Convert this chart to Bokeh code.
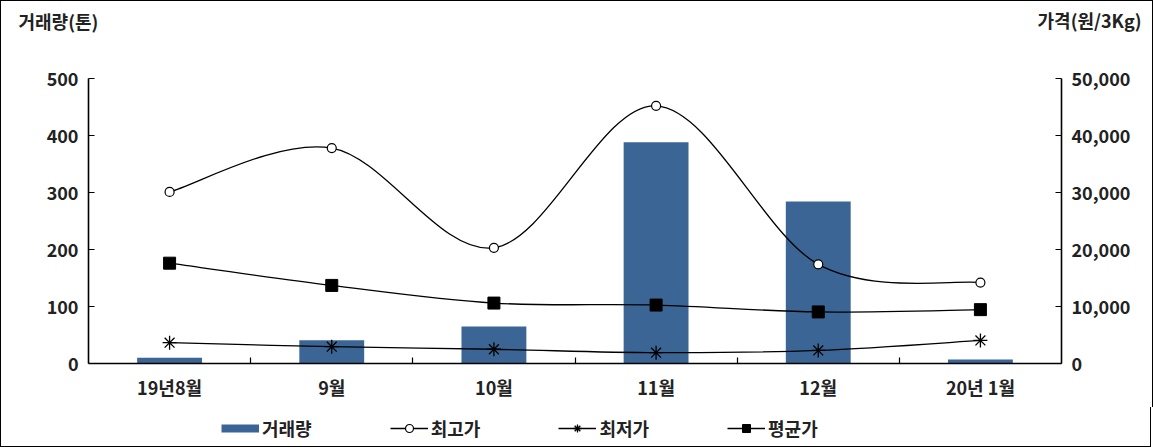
from bokeh.plotting import figure
from bokeh.layouts import column
from bokeh.models import (Range1d, LinearAxis, FixedTicker, NumeralTickFormatter,
                          Legend, LegendItem, Label)
from bokeh.embed import file_html
from bokeh.resources import INLINE

# ---- data ----
months = ["19년8월", "9월", "10월", "11월", "12월", "20년 1월"]
volume = [10, 41, 65, 388, 284, 7]                         # 거래량 (톤)
max_price = [30100, 37800, 20300, 45200, 17400, 14200]     # 최고가 (원/3Kg)
min_price = [3650, 2950, 2500, 1900, 2300, 4050]           # 최저가
avg_price = [17600, 13700, 10600, 10250, 9050, 9450]       # 평균가
left_ticks = [0, 100, 200, 300, 400, 500]
right_ticks = [0, 10000, 20000, 30000, 40000, 50000]

FONT = "Noto Sans CJK KR"
TXT = "#222222"
BAR = "#3a6595"

xs = [i + 0.5 for i in range(len(months))]
bounds = list(range(1, len(months)))

p = figure(width=None, height=None, frame_width=971, frame_height=284,
           x_range=Range1d(0, len(months)), y_range=Range1d(left_ticks[0], left_ticks[-1]),
           output_backend="svg", toolbar_location=None,
           min_border_left=87, min_border_right=93, min_border_top=77, min_border_bottom=45)
p.styles = {"border": "1px solid #000000", "border-bottom": "none"}
p.extra_y_ranges = {"price": Range1d(right_ticks[0], right_ticks[-1])}
p.grid.visible = False
p.outline_line_color = None

# x axis: labels at category centres, small inward ticks at the boundaries
xa = p.xaxis[0]
xa.ticker = FixedTicker(ticks=xs, minor_ticks=bounds)
xa.major_label_overrides = {x: m for x, m in zip(xs, months)}
xa.major_tick_in = 0
xa.major_tick_out = 0
xa.minor_tick_in = 6
xa.minor_tick_out = 0
xa.minor_tick_line_color = "black"

ya = p.yaxis[0]
ya.ticker = FixedTicker(ticks=left_ticks)
ya.major_tick_in = 6
ya.major_tick_out = 0
ya.minor_tick_line_color = None

ra = LinearAxis(y_range_name="price", ticker=FixedTicker(ticks=right_ticks),
                formatter=NumeralTickFormatter(format="0,0"))
ra.major_tick_in = 6
ra.major_tick_out = 0
ra.minor_tick_line_color = None
p.add_layout(ra, "right")

for ax in (xa, ya, ra):
    ax.axis_line_width = 1.6
    ax.axis_line_color = "black"
    ax.major_tick_line_color = "black"
    ax.major_tick_line_width = 1.2
    ax.minor_tick_line_width = 1.2
    ax.major_label_text_font = FONT
    ax.major_label_text_font_size = "18px"
    ax.major_label_text_font_style = "bold"
    ax.major_label_text_color = TXT
    ax.major_label_standoff = 10

# bars
p.vbar(x=xs, top=volume, width=0.4, fill_color=BAR, line_color=None)


# smooth (Excel-like) curves through the points, drawn as cubic Bezier segments
def bezier_segments(xv, yv, t=6.0):
    n = len(xv)
    out = {k: [] for k in ("x0", "y0", "x1", "y1", "cx0", "cy0", "cx1", "cy1")}
    for i in range(n - 1):
        a, b = max(i - 1, 0), min(i + 2, n - 1)
        out["x0"].append(xv[i]); out["y0"].append(yv[i])
        out["x1"].append(xv[i + 1]); out["y1"].append(yv[i + 1])
        out["cx0"].append(xv[i] + (xv[i + 1] - xv[a]) / t)
        out["cy0"].append(yv[i] + (yv[i + 1] - yv[a]) / t)
        out["cx1"].append(xv[i + 1] - (xv[b] - xv[i]) / t)
        out["cy1"].append(yv[i + 1] - (yv[b] - yv[i]) / t)
    return out


for series in (max_price, avg_price, min_price):
    p.bezier(**bezier_segments(xs, series), line_color="black", line_width=1.3,
             y_range_name="price")

MARK = dict(
    max=dict(marker="circle", size=9, fill_color="white", line_color="black", line_width=1.2),
    min=dict(marker="asterisk", size=14, line_color="black", line_width=1.3),
    avg=dict(marker="square", size=12, fill_color="black", line_color="black"),
)
p.scatter(xs, max_price, y_range_name="price", **MARK["max"])
p.scatter(xs, min_price, y_range_name="price", **MARK["min"])
p.scatter(xs, avg_price, y_range_name="price", **MARK["avg"])

# axis titles at the top corners (side panels, so not clipped to the frame)
p.add_layout(Label(x=-70, y=58, x_units="screen", y_units="screen", text="거래량(톤)",
                   text_font=FONT, text_font_size="18px", text_font_style="bold",
                   text_color=TXT, text_baseline="middle", text_align="left"), "above")
p.add_layout(Label(x=1053, y=33, x_units="screen", y_units="screen", text="가격(원/3Kg)",
                   text_font=FONT, text_font_size="18px", text_font_style="bold",
                   text_color=TXT, text_baseline="middle", text_align="right"), "above")

# ---- legend strip (its own figure so that nothing is clipped) ----
lf = figure(width=1151, height=40, x_range=Range1d(0, len(months)),
            y_range=Range1d(0, max(volume)), output_backend="svg", toolbar_location=None,
            x_axis_location=None, y_axis_location=None,
            min_border_left=0, min_border_right=0, min_border_top=0, min_border_bottom=0)
lf.styles = {"border": "1px solid #000000", "border-top": "none"}
lf.grid.visible = False
lf.outline_line_color = None
lf.extra_y_ranges = {"price": Range1d(right_ticks[0], right_ticks[-1])}

lg_bar = lf.line(xs, volume, line_color=BAR, line_width=8, visible=False)
lg_max = lf.line(xs, max_price, line_color="black", line_width=1.3, visible=False, y_range_name="price")
lg_min = lf.line(xs, min_price, line_color="black", line_width=1.3, visible=False, y_range_name="price")
lg_avg = lf.line(xs, avg_price, line_color="black", line_width=1.3, visible=False, y_range_name="price")
lm_max = lf.scatter(xs, max_price, visible=False, y_range_name="price", **MARK["max"])
lm_min = lf.scatter(xs, min_price, visible=False, y_range_name="price", **MARK["min"])
lm_avg = lf.scatter(xs, avg_price, visible=False, y_range_name="price", **MARK["avg"])

legend = Legend(items=[
    LegendItem(label="거래량", renderers=[lg_bar]),
    LegendItem(label="최고가", renderers=[lg_max, lm_max]),
    LegendItem(label="최저가", renderers=[lg_min, lm_min]),
    LegendItem(label="평균가", renderers=[lg_avg, lm_avg]),
], orientation="horizontal", location=(133, 6),
    border_line_color=None, background_fill_alpha=0,
    inactive_fill_alpha=0,
    label_text_font=FONT, label_text_font_size="18px", label_text_font_style="bold",
    label_text_color=TXT, glyph_width=38, glyph_height=20, spacing=78,
    label_standoff=3, padding=0, margin=0)
lf.add_layout(legend, "center")

layout = column(p, lf, spacing=0)
open("out.html", "w").write(file_html(layout, INLINE))
